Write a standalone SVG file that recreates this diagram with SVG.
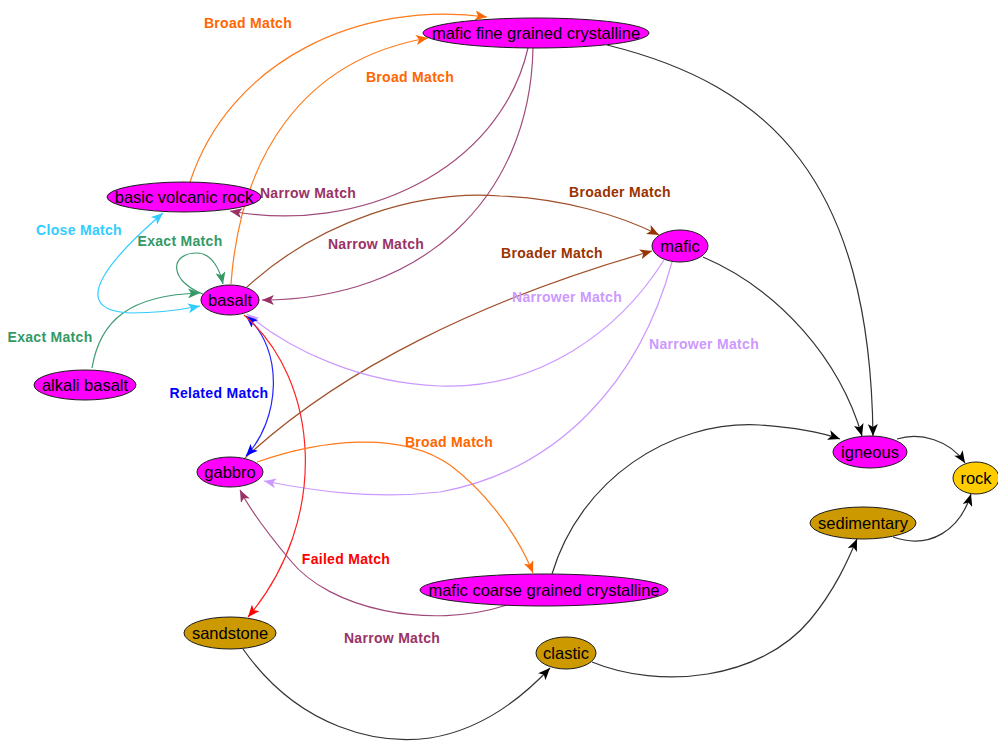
<svg xmlns="http://www.w3.org/2000/svg" width="998" height="746" viewBox="0 0 998 746">
  <style>
    .edge { fill: none; stroke-width: 1.2; }
    .node ellipse { stroke: #1a1a1a; stroke-width: 1; }
    .node text { font-family: "Liberation Sans", Arial, sans-serif; font-size: 16.5px; fill: #000; text-anchor: middle; }
    .lbl { font-family: "Liberation Sans", Arial, sans-serif; font-size: 14px; font-weight: bold; text-anchor: middle; letter-spacing: 0.3px; }
    .igc { fill: #ff00ff; }
    .sed { fill: #cc9900; }
    .top { fill: #ffcc00; }
    .orange { stroke: #ff7a1a; }
    .plum { stroke: #a04a7a; }
    .brown { stroke: #a0502a; }
    .lav { stroke: #cc99ff; }
    .cyan { stroke: #33ccff; }
    .green { stroke: #3f9a70; }
    .blue { stroke: #2222ff; }
    .red { stroke: #ff2222; }
    .black { stroke: #333; }
  </style>
  <defs>
    <marker id="a-orange" viewBox="0 0 12 10" refX="12" refY="5" markerWidth="12" markerHeight="10" markerUnits="userSpaceOnUse" orient="auto-start-reverse"><path d="M0,0 L12,5 L0,10 L3,5 z" fill="#ff6600"/></marker>
    <marker id="a-plum" viewBox="0 0 12 10" refX="12" refY="5" markerWidth="12" markerHeight="10" markerUnits="userSpaceOnUse" orient="auto-start-reverse"><path d="M0,0 L12,5 L0,10 L3,5 z" fill="#993366"/></marker>
    <marker id="a-brown" viewBox="0 0 12 10" refX="12" refY="5" markerWidth="12" markerHeight="10" markerUnits="userSpaceOnUse" orient="auto-start-reverse"><path d="M0,0 L12,5 L0,10 L3,5 z" fill="#993300"/></marker>
    <marker id="a-lav" viewBox="0 0 12 10" refX="12" refY="5" markerWidth="12" markerHeight="10" markerUnits="userSpaceOnUse" orient="auto-start-reverse"><path d="M0,0 L12,5 L0,10 L3,5 z" fill="#cc99ff"/></marker>
    <marker id="a-cyan" viewBox="0 0 12 10" refX="12" refY="5" markerWidth="12" markerHeight="10" markerUnits="userSpaceOnUse" orient="auto-start-reverse"><path d="M0,0 L12,5 L0,10 L3,5 z" fill="#33ccff"/></marker>
    <marker id="a-green" viewBox="0 0 12 10" refX="12" refY="5" markerWidth="12" markerHeight="10" markerUnits="userSpaceOnUse" orient="auto-start-reverse"><path d="M0,0 L12,5 L0,10 L3,5 z" fill="#339966"/></marker>
    <marker id="a-blue" viewBox="0 0 12 10" refX="12" refY="5" markerWidth="12" markerHeight="10" markerUnits="userSpaceOnUse" orient="auto-start-reverse"><path d="M0,0 L12,5 L0,10 L3,5 z" fill="#0000ff"/></marker>
    <marker id="a-red" viewBox="0 0 12 10" refX="12" refY="5" markerWidth="12" markerHeight="10" markerUnits="userSpaceOnUse" orient="auto-start-reverse"><path d="M0,0 L12,5 L0,10 L3,5 z" fill="#ff0000"/></marker>
    <marker id="a-black" viewBox="0 0 12 10" refX="12" refY="5" markerWidth="12" markerHeight="10" markerUnits="userSpaceOnUse" orient="auto-start-reverse"><path d="M0,0 L12,5 L0,10 L3,5 z" fill="#000"/></marker>
  </defs>

  <!-- connectors -->
  <g id="edges">
    <path class="edge orange" d="M190,182 C 230,60 360,0 487,17" marker-end="url(#a-orange)"/>
    <path class="edge orange" d="M231,284 C 240,160 300,60 428,38" marker-end="url(#a-orange)"/>
    <path class="edge plum" d="M528,48 C 500,170 360,235 230,211" marker-end="url(#a-plum)"/>
    <path class="edge plum" d="M533,48 C 530,200 420,300 262,300" marker-end="url(#a-plum)"/>
    <path class="edge brown" d="M247,287 C 320,220 420,190 500,196 C 560,198 620,215 659,235" marker-end="url(#a-brown)"/>
    <path class="edge brown" d="M245,458 C 340,370 480,300 652,251" marker-end="url(#a-brown)"/>
    <path class="edge lav" d="M664,260 C 620,330 540,390 440,386 C 360,383 290,350 247,314" marker-end="url(#a-lav)"/>
    <path class="edge lav" d="M672,262 C 640,380 560,470 440,492 C 370,500 310,490 264,481" marker-end="url(#a-lav)"/>
    <path class="edge blue" d="M246,316 C 285,350 280,420 246,456" marker-start="url(#a-blue)" marker-end="url(#a-blue)"/>
    <path class="edge red" d="M244,315 C 320,380 330,520 248,617" marker-end="url(#a-red)"/>
    <path class="edge green" d="M92,368 C 100,320 130,295 200,293" marker-end="url(#a-green)"/>
    <path class="edge green" d="M203,294 C 170,282 168,253 197,253 C 212,253 220,270 223,284" marker-end="url(#a-green)"/>
    <path class="edge cyan" d="M163,213 C 120,250 60,310 130,313 C 160,313 180,310 200,306" marker-start="url(#a-cyan)" marker-end="url(#a-cyan)"/>
    <path class="edge orange" d="M257,462 C 320,440 400,430 450,465 C 490,495 520,540 533,573" marker-end="url(#a-orange)"/>
    <path class="edge plum" d="M507,605 C 430,630 330,610 290,560 C 265,530 250,510 240,490" marker-end="url(#a-plum)"/>
    <path class="edge black" d="M552,574 C 580,480 670,420 760,425 C 790,427 820,432 840,439" marker-end="url(#a-black)"/>
    <path class="edge black" d="M703,257 C 780,290 840,360 862,436" marker-end="url(#a-black)"/>
    <path class="edge black" d="M607,45 C 770,85 870,180 873,436" marker-end="url(#a-black)"/>
    <path class="edge black" d="M897,439 C 920,432 950,440 965,463" marker-end="url(#a-black)"/>
    <path class="edge black" d="M893,537 C 930,550 960,530 971,494" marker-end="url(#a-black)"/>
    <path class="edge black" d="M592,662 C 660,690 760,680 810,620 C 835,590 848,560 857,539" marker-end="url(#a-black)"/>
    <path class="edge black" d="M243,649 C 300,730 380,745 430,738 C 480,730 520,700 550,668" marker-end="url(#a-black)"/>

    <text class="lbl" x="248" y="28" fill="#ff6600">Broad Match</text>
    <text class="lbl" x="410" y="82" fill="#ff6600">Broad Match</text>
    <text class="lbl" x="308" y="198" fill="#993366">Narrow Match</text>
    <text class="lbl" x="620" y="197" fill="#993300">Broader Match</text>
    <text class="lbl" x="79" y="235" fill="#33ccff">Close Match</text>
    <text class="lbl" x="180" y="246" fill="#339966">Exact Match</text>
    <text class="lbl" x="376" y="249" fill="#993366">Narrow Match</text>
    <text class="lbl" x="552" y="258" fill="#993300">Broader Match</text>
    <text class="lbl" x="567" y="302" fill="#cc99ff">Narrower Match</text>
    <text class="lbl" x="50" y="342" fill="#339966">Exact Match</text>
    <text class="lbl" x="704" y="349" fill="#cc99ff">Narrower Match</text>
    <text class="lbl" x="219" y="398" fill="#0000ff">Related Match</text>
    <text class="lbl" x="449" y="447" fill="#ff6600">Broad Match</text>
    <text class="lbl" x="346" y="564" fill="#ff0000">Failed Match</text>
    <text class="lbl" x="392" y="643" fill="#993366">Narrow Match</text>
  </g>

  <!-- nodes -->
  <g id="mafic-fine-grained-crystalline" class="node"><ellipse class="igc" cx="536" cy="33" rx="113" ry="15"/><text x="536" y="39">mafic fine grained crystalline</text></g>
  <g id="basic-volcanic-rock" class="node"><ellipse class="igc" cx="184" cy="197" rx="77" ry="15"/><text x="184" y="203">basic volcanic rock</text></g>
  <g id="basalt" class="node"><ellipse class="igc" cx="230" cy="300" rx="29" ry="15"/><text x="230" y="306">basalt</text></g>
  <g id="mafic" class="node"><ellipse class="igc" cx="680" cy="246" rx="28" ry="16"/><text x="680" y="252">mafic</text></g>
  <g id="alkali-basalt" class="node"><ellipse class="igc" cx="85" cy="385" rx="51" ry="15"/><text x="85" y="391">alkali basalt</text></g>
  <g id="gabbro" class="node"><ellipse class="igc" cx="230" cy="472" rx="33" ry="15"/><text x="230" y="478">gabbro</text></g>
  <g id="sandstone" class="node"><ellipse class="sed" cx="230" cy="633" rx="46" ry="16"/><text x="230" y="639">sandstone</text></g>
  <g id="mafic-coarse-grained-crystalline" class="node"><ellipse class="igc" cx="544" cy="590" rx="124" ry="16"/><text x="544" y="596">mafic coarse grained crystalline</text></g>
  <g id="clastic" class="node"><ellipse class="sed" cx="566" cy="653" rx="30" ry="16"/><text x="566" y="659">clastic</text></g>
  <g id="igneous" class="node"><ellipse class="igc" cx="870" cy="452" rx="37" ry="16"/><text x="870" y="458">igneous</text></g>
  <g id="rock" class="node"><ellipse class="top" cx="976" cy="478" rx="23" ry="16"/><text x="976" y="484">rock</text></g>
  <g id="sedimentary" class="node"><ellipse class="sed" cx="863" cy="523" rx="53" ry="16"/><text x="863" y="529">sedimentary</text></g>
</svg>
